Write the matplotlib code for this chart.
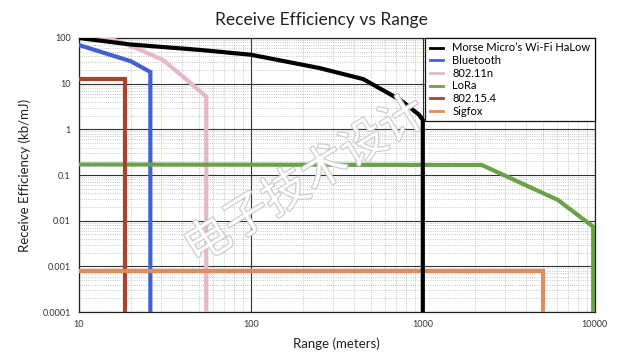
import matplotlib
matplotlib.use("Agg")
import matplotlib.pyplot as plt
import matplotlib.patheffects as pe
from matplotlib.lines import Line2D
from matplotlib.ticker import FixedLocator, FixedFormatter, LogLocator, NullFormatter

plt.rcParams['font.family'] = ['Lato', 'DejaVu Sans']

# values (range in m, efficiency in kb/mJ)
halow_x = [10, 20, 50, 100, 250, 450, 740, 950, 1000, 1000]
halow_y = [100, 72, 55, 43, 22, 12.6, 4.4, 2.1, 1.6, 0.0001]
bt_x = [10, 20, 26, 26]
bt_y = [70, 31, 18, 0.0001]
wifi_x = [10, 15, 22.7, 30.8, 42.5, 55, 55]
wifi_y = [110, 100, 55, 33, 12, 5.2, 0.0001]
lora_x = [10, 2200, 6100, 9800, 9800]
lora_y = [0.17, 0.166, 0.0285, 0.0074, 0.0001]
zig_x = [10, 18.5, 18.5]
zig_y = [12.5, 12.5, 0.0001]
sigfox_x = [10, 5000, 5000]
sigfox_y = [0.0008, 0.0008, 0.0001]

labels = ["Morse Micro\u2019s Wi-Fi HaLow", "Bluetooth", "802.11n", "LoRa", "802.15.4", "Sigfox"]
colors = ["#000000", "#3f62d8", "#e8b6cb", "#6aa24a", "#a8432f", "#e38c55"]

xticks = [10, 100, 1000, 10000]
xtick_labels = ["10", "100", "1000", "10000"]
yticks = [0.0001, 0.001, 0.01, 0.1, 1, 10, 100]
ytick_labels = ["0.0001", "0.001", "0.01", "0.1", "1", "10", "100"]

fig = plt.figure(figsize=(6.32, 3.55), dpi=100)
ax = fig.add_axes([0.125, 0.121, 0.816, 0.772])

series = [(wifi_x, wifi_y, colors[2]), (bt_x, bt_y, colors[1]), (lora_x, lora_y, colors[3]),
          (zig_x, zig_y, colors[4]), (sigfox_x, sigfox_y, colors[5]), (halow_x, halow_y, colors[0])]
for x, y, c in series:
    ax.plot(x, y, color=c, linewidth=3, solid_joinstyle='miter', zorder=3)

ax.set_xscale('log')
ax.set_yscale('log')
ax.set_xlim(10, 10000)
ax.set_ylim(0.0001, 100)

ax.xaxis.set_major_locator(FixedLocator(xticks))
ax.xaxis.set_major_formatter(FixedFormatter(xtick_labels))
ax.yaxis.set_major_locator(FixedLocator(yticks))
ax.yaxis.set_major_formatter(FixedFormatter(ytick_labels))
ax.xaxis.set_minor_locator(LogLocator(base=10, subs=range(2, 10)))
ax.yaxis.set_minor_locator(LogLocator(base=10, subs=range(2, 10)))
ax.xaxis.set_minor_formatter(NullFormatter())
ax.yaxis.set_minor_formatter(NullFormatter())
ax.tick_params(which='both', length=0, labelsize=6.5, colors='#333333', pad=6)

ax.grid(which='major', color='#333333', linewidth=0.8)
ax.grid(which='minor', color='#b5b5b5', linewidth=0.6, linestyle=':')
ax.set_axisbelow(True)
for s in ax.spines.values():
    s.set_color('#222222')
    s.set_linewidth(0.9)

ax.set_xlabel("Range (meters)", fontsize=9.5, color='#222222', labelpad=6)
ax.set_ylabel("Receive Efficiency (kb/mJ)", fontsize=9.5, color='#222222', labelpad=8)
fig.text(0.508, 0.945, "Receive Efficiency vs Range", ha='center', va='center', fontsize=12.5, color='#222222')

handles = [Line2D([0], [0], color=c, linewidth=2) for c in colors]
leg = ax.legend(handles, labels, loc='upper right', bbox_to_anchor=(1.0, 1.0), fontsize=8,
                frameon=True, fancybox=False, framealpha=1, edgecolor='#111111',
                handlelength=1.2, handletextpad=0.8, labelspacing=0.15, borderpad=0.4,
                borderaxespad=0)
leg.get_frame().set_linewidth(0.9)
leg.set_zorder(5)

# watermark
fig.text(0.484, 0.49, "电子技术设计", ha='center', va='center', rotation=32, fontsize=33,
         family=['Noto Sans CJK SC', 'DejaVu Sans'], color='white', alpha=0.9, zorder=10,
         path_effects=[pe.withStroke(linewidth=1.5, foreground='#c4c4c4')])

fig.savefig("out.png", dpi=100)
